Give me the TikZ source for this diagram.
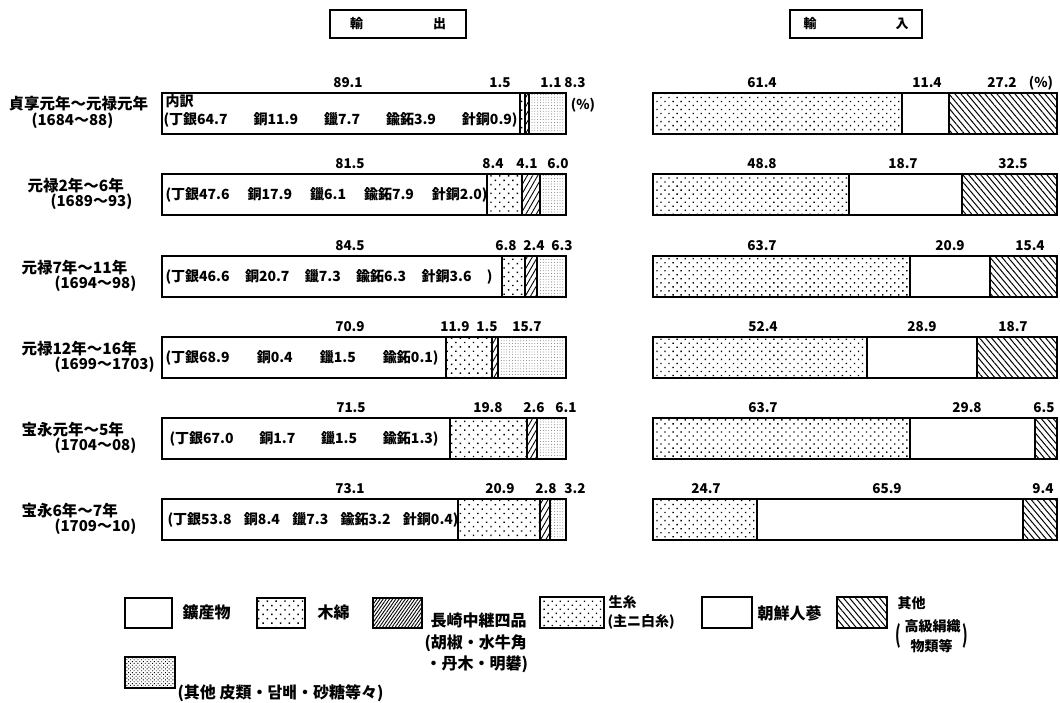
\documentclass[tikz,border=0pt]{standalone}
\usepackage{fontspec}
\setmainfont{Noto Sans CJK JP}
\usetikzlibrary{patterns.meta}

\begin{document}
\begin{tikzpicture}[x=1pt,y=-1pt,line width=1.1pt,
    num/.style={font=\fontsize{13.5}{13.5}\selectfont\bfseries,inner sep=0pt},
    nen/.style={font=\fontsize{15.5}{15.5}\selectfont\bfseries,inner sep=0pt,anchor=west},
    sei/.style={nen,font=\fontsize{15}{15}\selectfont\bfseries},
    naiyo/.style={font=\fontsize{14}{14}\selectfont\bfseries,inner sep=0pt,anchor=west},
    hanrei/.style={font=\fontsize{16}{16}\selectfont\bfseries,inner sep=0pt,anchor=west},
    komoji/.style={hanrei,font=\fontsize{14}{14}\selectfont\bfseries},
    midashi/.style={draw,font=\fontsize{13}{13}\selectfont\bfseries,minimum height=28pt,inner sep=0pt},
    kozan/.style={fill=white},
    momen/.style={pattern={Dots[distance=6.2pt,radius=1pt,angle=45]}},
    nagasaki/.style={pattern={Lines[angle=60,distance=4.5pt,line width=0.9pt]}},
    sonota/.style={pattern={Dots[distance=2.8pt,radius=0.4pt]},pattern color=black!75},
    kiito/.style={pattern={Dots[distance=5.7pt,radius=0.95pt,angle=45]}},
    ninjin/.style={fill=white},
    kinu/.style={pattern={Lines[angle=-50,distance=4.6pt,line width=1pt]}}]
\useasboundingbox (0,0) rectangle (1060,702);

\node[midashi,minimum width=136pt] (yushutsu) at (398,24) {輸\hspace{70pt}出};
\node[midashi,minimum width=132pt] (yunyu) at (856,24) {輸\hspace{79pt}入};

% 輸出
\draw[kozan] (162,93) rectangle (520,134);
\draw[momen] (520,93) rectangle (525,134);
\draw[nagasaki] (525,93) rectangle (529,134);
\draw[sonota] (529,93) rectangle (566,134);
\draw[kozan] (162,174) rectangle (487,215);
\draw[momen] (487,174) rectangle (522,215);
\draw[nagasaki] (522,174) rectangle (540,215);
\draw[sonota] (540,174) rectangle (566,215);
\draw[kozan] (162,256) rectangle (502,297);
\draw[momen] (502,256) rectangle (525,297);
\draw[nagasaki] (525,256) rectangle (537,297);
\draw[sonota] (537,256) rectangle (566,297);
\draw[kozan] (162,337) rectangle (446,378);
\draw[momen] (446,337) rectangle (492,378);
\draw[nagasaki] (492,337) rectangle (498,378);
\draw[sonota] (498,337) rectangle (566,378);
\draw[kozan] (162,418) rectangle (450,459);
\draw[momen] (450,418) rectangle (527,459);
\draw[nagasaki] (527,418) rectangle (537,459);
\draw[sonota] (537,418) rectangle (566,459);
\draw[kozan] (162,499) rectangle (458,540);
\draw[momen] (458,499) rectangle (540,540);
\draw[nagasaki] (540,499) rectangle (550,540);
\draw[sonota] (550,499) rectangle (566,540);

% 輸入
\draw[kiito] (653,93) rectangle (902,134);
\draw[ninjin] (902,93) rectangle (949,134);
\draw[kinu] (949,93) rectangle (1057,134);
\draw[kiito] (653,174) rectangle (849,215);
\draw[ninjin] (849,174) rectangle (962,215);
\draw[kinu] (962,174) rectangle (1057,215);
\draw[kiito] (653,256) rectangle (910,297);
\draw[ninjin] (910,256) rectangle (990,297);
\draw[kinu] (990,256) rectangle (1057,297);
\draw[kiito] (653,337) rectangle (867,378);
\draw[ninjin] (867,337) rectangle (977,378);
\draw[kinu] (977,337) rectangle (1057,378);
\draw[kiito] (653,418) rectangle (910,459);
\draw[ninjin] (910,418) rectangle (1035,459);
\draw[kinu] (1035,418) rectangle (1057,459);
\draw[kiito] (653,499) rectangle (757,540);
\draw[ninjin] (757,499) rectangle (1023,540);
\draw[kinu] (1023,499) rectangle (1057,540);

% 年代
\node[nen] (nen1) at (8,104) {貞享元年～元禄元年};
\node[sei] (sei1) at (31,121) {(1684～88)};
\node[nen] (nen2) at (27,186) {元禄2年～6年};
\node[sei] (sei2) at (50,202) {(1689～93)};
\node[nen] (nen3) at (21,268) {元禄7年～11年};
\node[sei] (sei3) at (54,284) {(1694～98)};
\node[nen] (nen4) at (21,349) {元禄12年～16年};
\node[sei] (sei4) at (54,365) {(1699～1703)};
\node[nen] (nen5) at (21,430) {宝永元年～5年};
\node[sei] (sei5) at (54,446) {(1704～08)};
\node[nen] (nen6) at (21,511) {宝永6年～7年};
\node[sei] (sei6) at (54,527) {(1709～10)};

% 内訳
\node[naiyo] (uchi0) at (165,101) {内訳};
\node[naiyo] (uchi1) at (163,120) {\makebox[354pt][s]{(丁銀64.7 銅11.9 鑞7.7 鍮鉐3.9 針銅0.9)}};
\node[naiyo] (uchi2) at (165,195) {\makebox[322pt][s]{(丁銀47.6 銅17.9 鑞6.1 鍮鉐7.9 針銅2.0)}};
\node[naiyo] (uchi3) at (165,277) {\makebox[327pt][s]{(丁銀46.6 銅20.7 鑞7.3 鍮鉐6.3 針銅3.6 )}};
\node[naiyo] (uchi4) at (165,358) {\makebox[273pt][s]{(丁銀68.9 銅0.4 鑞1.5 鍮鉐0.1)}};
\node[naiyo] (uchi5) at (169,439) {\makebox[269pt][s]{(丁銀67.0 銅1.7 鑞1.5 鍮鉐1.3)}};
\node[naiyo] (uchi6) at (167,520) {\makebox[291pt][s]{(丁銀53.8 銅8.4 鑞7.3 鍮鉐3.2 針銅0.4)}};

% 輸出の数値
\node[num] (e1a) at (348,83) {89.1};
\node[num] (e1b) at (500,83) {1.5};
\node[num] (e1c) at (551,83) {1.1};
\node[num] (e1d) at (575,83) {8.3};
\node[num] (e1p) at (583,105) {(\%)};
\node[num] (e2a) at (350,164) {81.5};
\node[num] (e2b) at (493,164) {8.4};
\node[num] (e2c) at (527,164) {4.1};
\node[num] (e2d) at (558,164) {6.0};
\node[num] (e3a) at (350,246) {84.5};
\node[num] (e3b) at (506,246) {6.8};
\node[num] (e3c) at (534,246) {2.4};
\node[num] (e3d) at (562,246) {6.3};
\node[num] (e4a) at (350,327) {70.9};
\node[num] (e4b) at (455,327) {11.9};
\node[num] (e4c) at (487,327) {1.5};
\node[num] (e4d) at (527,327) {15.7};
\node[num] (e5a) at (351,408) {71.5};
\node[num] (e5b) at (488,408) {19.8};
\node[num] (e5c) at (534,408) {2.6};
\node[num] (e5d) at (566,408) {6.1};
\node[num] (e6a) at (350,489) {73.1};
\node[num] (e6b) at (500,489) {20.9};
\node[num] (e6c) at (546,489) {2.8};
\node[num] (e6d) at (575,489) {3.2};

% 輸入の数値
\node[num] (i1a) at (762,83) {61.4};
\node[num] (i1b) at (927,83) {11.4};
\node[num] (i1c) at (1002,83) {27.2};
\node[num] (i1p) at (1041,83) {(\%)};
\node[num] (i2a) at (762,164) {48.8};
\node[num] (i2b) at (903,164) {18.7};
\node[num] (i2c) at (1013,164) {32.5};
\node[num] (i3a) at (762,246) {63.7};
\node[num] (i3b) at (950,246) {20.9};
\node[num] (i3c) at (1030,246) {15.4};
\node[num] (i4a) at (763,327) {52.4};
\node[num] (i4b) at (922,327) {28.9};
\node[num] (i4c) at (1013,327) {18.7};
\node[num] (i5a) at (763,408) {63.7};
\node[num] (i5b) at (967,408) {29.8};
\node[num] (i5c) at (1044,408) {6.5};
\node[num] (i6a) at (706,489) {24.7};
\node[num] (i6b) at (887,489) {65.9};
\node[num] (i6c) at (1043,489) {9.4};

% 凡例
\draw[kozan] (125,598) rectangle (172,628);
\node[hanrei] (h1) at (182,612) {鑛産物};
\draw[momen] (257,598) rectangle (305,628);
\node[hanrei] (h2) at (317,612) {木綿};
\draw[pattern={Lines[angle=55,distance=2.6pt,line width=0.9pt]}] (373,598) rectangle (422,628);
\node[hanrei] (h3) at (430,620) {長崎中継四品};
\node[hanrei] (h3a) at (424,643) {(胡椒・水牛角};
\node[hanrei] (h3b) at (425,664) {・丹木・明礬)};
\draw[kiito] (540,597) rectangle (604,628);
\node[komoji] (h4) at (608,602) {生糸};
\node[komoji] (h4a) at (607,622) {(主ニ白糸)};
\draw[ninjin] (702,597) rectangle (752,628);
\node[hanrei] (h5) at (757,613) {朝鮮人蔘};
\draw[kinu] (837,597) rectangle (887,628);
\node[komoji] (h6) at (897,603) {其他};
\node[komoji] (h6l) at (895,636) {\scalebox{1}[1.7]{(}};
\node[komoji] (h6a) at (904,626) {高級絹織};
\node[komoji] (h6b) at (910,646) {物類等};
\node[komoji] (h6r) at (962,636) {\scalebox{1}[1.7]{)}};
\draw[pattern={Dots[distance=2.6pt,radius=0.65pt,angle=45]}] (125,657) rectangle (175,688);
\node[hanrei] (h7) at (177,693) {(其他 皮類・담배・砂糖等々)};
\end{tikzpicture}
\end{document}
